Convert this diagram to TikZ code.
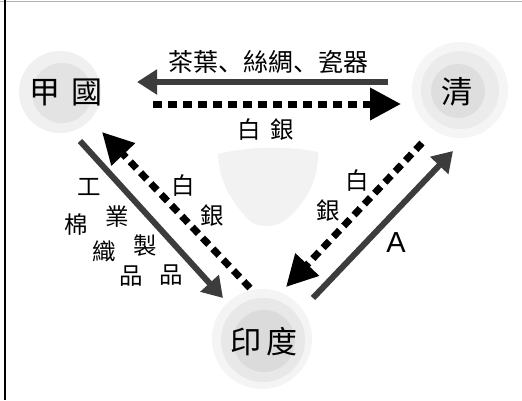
\documentclass[tikz,border=0pt]{standalone}
\usepackage{fontspec}
\setmainfont{Liberation Sans}
\newfontfamily\cjk{Noto Sans CJK TC}
\newfontfamily\cjkjp{Noto Sans CJK JP}
\usetikzlibrary{arrows.meta}
\definecolor{arrgray}{HTML}{3C3C3C}
\tikzset{
  solidarr/.style={draw=arrgray, line width=6pt, -{Triangle[length=20pt,width=24pt]}},
  dasharr/.style={draw=black, line width=7pt, dash pattern=on 9pt off 6pt, -{Triangle[length=31pt,width=31pt]}},
  lbl/.style={font=\cjk\fontsize{23.5}{23.5}\selectfont, inner sep=0pt},
  country/.style={font=\cjk\fontsize{31}{31}\selectfont, inner sep=0pt},
}
\begin{document}
\begin{tikzpicture}[x=1pt,y=-1pt]
\useasboundingbox (0,0) rectangle (522,400);
\fill[white] (0,0) rectangle (522,400);
% frame (left and top only)
\draw[gray!60, line width=1pt] (0,1) -- (522,1);
\draw[black, line width=2pt] (4.5,0) -- (4.5,400);
% shield shape
\fill[gray!10] (218,154) .. controls (250,146) and (290,146) .. (318,152)
  .. controls (319,180) and (305,205) .. (284,221)
  .. controls (275,228) and (256,228) .. (248,219)
  .. controls (230,200) and (219,180) .. (218,154) -- cycle;
% country circles
\fill[gray!12] (60,92) circle (41);
\fill[gray!22] (62,93) circle (30);
\fill[gray!8] (460,90) circle (48);
\fill[gray!16] (460,90) circle (39);
\fill[gray!26] (458,91) circle (27);
\fill[gray!9] (262,339) circle (50);
\fill[gray!18] (263,340) circle (42);
\fill[gray!28] (264,341) circle (31);
\node[country] (jia) at (66,92) {甲\hspace{12pt}國};
\node[country] (qing) at (457,92) {清};
\node[country] (yin) at (264,342) {印\hspace{6pt}度};
% arrow end points
\coordinate (t1s) at (388,82);   \coordinate (t1e) at (137,82);
\coordinate (t2s) at (153,104);  \coordinate (t2e) at (401,104);
\coordinate (l1s) at (80,141);   \coordinate (l1e) at (223,298);
\coordinate (l2s) at (250,288);  \coordinate (l2e) at (102,132);
\coordinate (r1s) at (422,143);  \coordinate (r1e) at (286,287);
\coordinate (r2s) at (313,298);  \coordinate (r2e) at (453,151);
\draw[solidarr] (t1s) -- (t1e);
\draw[dasharr] (t2s) -- (t2e);
\draw[solidarr] (l1s) -- (l1e);
\draw[dasharr] (l2s) -- (l2e);
\draw[dasharr] (r1s) -- (r1e);
\draw[solidarr] (r2s) -- (r2e);
% labels
\node[lbl, font=\cjk\fontsize{25}{25}\selectfont] (goods) at (268,62) {茶葉{\cjkjp 、}絲綢{\cjkjp 、}瓷器};
\node[lbl] (silv) at (266,130) {白\hspace{10pt}銀};
\node[lbl] (lb1) at (183,186) {白};
\node[lbl] (lb2) at (212,216) {銀};
\node[lbl] (rb1) at (357,181) {白};
\node[lbl] (rb2) at (328,211) {銀};
\node[inner sep=0pt, font=\fontsize{29}{29}\selectfont] (A) at (396,243) {A};
\node[lbl] (c1) at (89,187) {工};
\node[lbl] (c2) at (117,217) {業};
\node[lbl] (c3) at (145,246) {製};
\node[lbl] (c4) at (171,275) {品};
\node[lbl] (d1) at (76,225) {棉};
\node[lbl] (d2) at (104,251) {織};
\node[lbl] (d3) at (131,276) {品};
\end{tikzpicture}
\end{document}
